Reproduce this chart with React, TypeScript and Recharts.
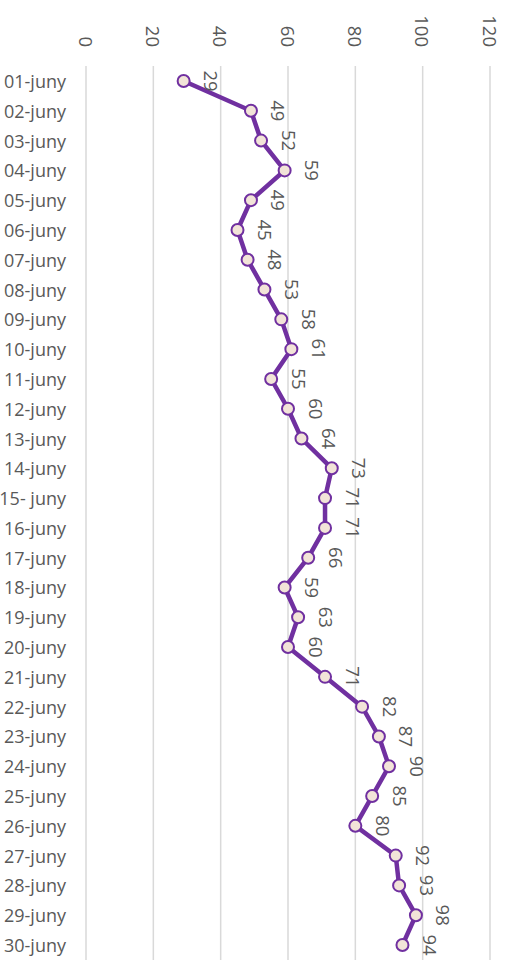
import React from "react";
import { LineChart, Line, XAxis, YAxis, CartesianGrid, LabelList } from "recharts";

const days = [
  "01-juny", "02-juny", "03-juny", "04-juny", "05-juny", "06-juny", "07-juny", "08-juny", "09-juny", "10-juny",
  "11-juny", "12-juny", "13-juny", "14-juny", "15- juny", "16-juny", "17-juny", "18-juny", "19-juny", "20-juny",
  "21-juny", "22-juny", "23-juny", "24-juny", "25-juny", "26-juny", "27-juny", "28-juny", "29-juny", "30-juny",
];
const values = [29, 49, 52, 59, 49, 45, 48, 53, 58, 61, 55, 60, 64, 73, 71, 71, 66, 59, 63, 60, 71, 82, 87, 90, 85, 80, 92, 93, 98, 94];
const xTicks = [0, 20, 40, 60, 80, 100, 120];

const data = days.map((d, i) => ({ day: d, value: values[i] }));

const FONT = "'Open Sans', 'Noto Sans', sans-serif";
const GRAY = "#595959";
const PURPLE = "#7030A0";

const TopTick = (props: any) => {
  const { x, y, payload } = props;
  const ty = y - 11;
  return (
    <text
      x={x}
      y={ty}
      transform={`rotate(90, ${x}, ${ty})`}
      textAnchor="end"
      dominantBaseline="central"
      fill={GRAY}
      fontSize={18.5}
      fontFamily={FONT}
    >
      {payload.value}
    </text>
  );
};

const LeftTick = (props: any) => {
  const { x, y, payload } = props;
  return (
    <text x={x} y={y} textAnchor="end" dominantBaseline="central" fill={GRAY} fontSize={18} fontFamily={FONT}>
      {payload.value}
    </text>
  );
};

const ValueLabel = (props: any) => {
  const { x, y, value } = props;
  const lx = x + 28;
  return (
    <text
      x={lx}
      y={y}
      transform={`rotate(90, ${lx}, ${y})`}
      textAnchor="middle"
      dominantBaseline="central"
      fill={GRAY}
      fontSize={18.5}
      fontFamily={FONT}
    >
      {value}
    </text>
  );
};

export default function App() {
  return (
    <div style={{ position: "absolute", left: 0, top: 0, background: "#fff" }}>
      <LineChart
        width={510}
        height={962}
        data={data}
        layout="vertical"
        margin={{ top: 0, right: 20, bottom: 2, left: 0 }}
      >
        <CartesianGrid horizontal={false} stroke="#d9d9d9" strokeWidth={1.5} />
        <XAxis
          type="number"
          orientation="top"
          domain={[0, 120]}
          ticks={xTicks}
          height={66}
          axisLine={false}
          tickLine={false}
          tick={<TopTick />}
          interval={0}
        />
        <YAxis
          type="category"
          dataKey="day"
          width={86}
          axisLine={false}
          tickLine={false}
          tick={<LeftTick />}
          interval={0}
          tickMargin={14}
          padding={{ top: 15, bottom: 15 }}
        />
        <Line
          dataKey="value"
          stroke={PURPLE}
          strokeWidth={4.5}
          isAnimationActive={false}
          dot={{ r: 6, fill: "#F2E4D8", stroke: PURPLE, strokeWidth: 2 }}
        >
          <LabelList dataKey="value" content={<ValueLabel />} />
        </Line>
      </LineChart>
    </div>
  );
}
